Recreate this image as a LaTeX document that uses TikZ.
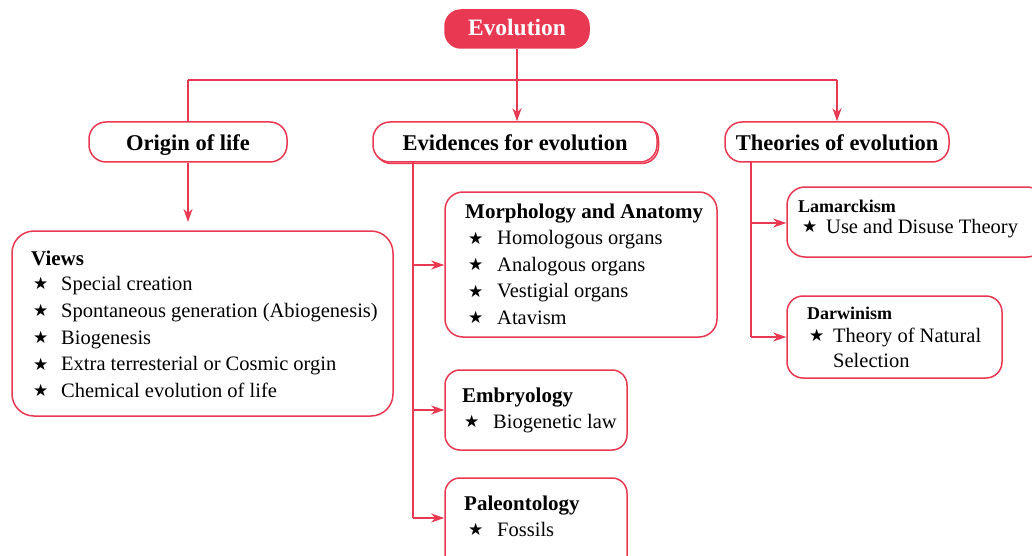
\documentclass[tikz,border=0pt]{standalone}
\usepackage{fontspec}
\setmainfont{Liberation Serif}
\newfontfamily\symf{DejaVu Sans}
\usetikzlibrary{arrows.meta}
\definecolor{ered}{RGB}{233,57,82}
\newcommand\itm[2][28pt]{\makebox[#1][l]{\raisebox{0.5pt}{\symf\fontsize{17}{17}\selectfont ★}}#2}
\begin{document}
\begin{tikzpicture}[x=1pt,y=-1pt,
  ln/.style={draw=ered,line width=1.6pt},
  arr/.style={ln,-{Stealth[length=13pt,width=9pt,inset=4pt]}},
  box/.style={draw=ered,line width=1.5pt,rectangle,inner sep=0pt,fill=white},
  pill/.style={box,rounded corners=17pt,text height=16pt,text depth=0pt,font=\fontsize{22.5}{27}\selectfont\bfseries},
  hd/.style={font=\fontsize{21}{25}\selectfont\bfseries,anchor=base west,inner sep=0pt},
  smhd/.style={font=\fontsize{18}{22}\selectfont\bfseries,anchor=base west,inner sep=0pt},
  bd/.style={font=\fontsize{20.5}{25}\selectfont,anchor=base west,inner sep=0pt}]
\clip (0,0) rectangle (1032,556);
\fill[white] (0,0) rectangle (1032,556);
% top level
\node[box,fill=ered,rounded corners=16pt,minimum width=144pt,minimum height=38pt,
  text height=15pt,text depth=2pt,
  text=white,font=\fontsize{23.5}{28}\selectfont\bfseries] (evo) at (517,29) {Evolution};
\node[pill,minimum width=198pt,minimum height=40pt] (orig) at (188,142) {Origin of life};
\draw[ered,line width=1.5pt,rounded corners=17pt] (374.5,123.5) rectangle (658.5,163.5);
\node[pill,minimum width=284pt,minimum height=40pt] (evid) at (515,142) {Evidences for evolution};
\node[pill,minimum width=224pt,minimum height=40pt] (theo) at (837,142) {Theories of evolution};
% connectors top
\coordinate (hm) at (517,80);
\coordinate (hl) at (orig.north |- hm);
\coordinate (hr) at (theo.north |- hm);
\draw[ln] (evo.south) -- (hm);
\draw[ln] (hl) -- (hr);
\draw[ln] (hl) -- (orig.north);
\draw[arr] (hm) -- (hm |- evid.north);
\draw[arr] (hr) -- (theo.north);
% boxes
\node[box,rounded corners=22pt,minimum width=381pt,minimum height=185pt] (views) at (202.5,323.5) {};
\node[box,rounded corners=18pt,minimum width=272pt,minimum height=145pt] (morph) at (581,264.5) {};
\node[box,rounded corners=15pt,minimum width=182pt,minimum height=80pt] (embr) at (536,410) {};
\node[box,rounded corners=15pt,minimum width=182pt,minimum height=97pt] (pale) at (536,526.5) {};
\node[box,rounded corners=18pt,minimum width=258pt,minimum height=70pt] (lam) at (916,222) {};
\node[box,rounded corners=16pt,minimum width=215pt,minimum height=82pt] (dar) at (894.5,337) {};
% origin -> views
\coordinate (vt) at (orig.south |- 0,222);
\draw[arr] (orig.south) -- (vt);
% evidences branch
\coordinate (e0) at (413,162);
\coordinate (e1) at (413,265);
\coordinate (e2) at (413,410);
\coordinate (e3) at (413,518);
\draw[ln] (e0) -- (e3);
\draw[arr] (e1) -- (e1 -| morph.west);
\draw[arr] (e2) -- (e2 -| embr.west);
\draw[arr] (e3) -- (e3 -| pale.west);
% theories branch
\coordinate (t0) at (751,162);
\coordinate (t1) at (751,223);
\coordinate (t2) at (751,337);
\draw[ln] (t0) -- (t2);
\draw[arr] (t1) -- (t1 -| lam.west);
\draw[arr] (t2) -- (t2 -| dar.west);
% views text
\node[hd] (vh) at (31,265) {Views};
\node[bd] (v1) at (33,290) {\itm{Special creation}};
\node[bd] (v2) at (33,317) {\itm{Spontaneous generation (Abiogenesis)}};
\node[bd] (v3) at (33,344) {\itm{Biogenesis}};
\node[bd] (v4) at (33,370.5) {\itm{Extra terresterial or Cosmic orgin}};
\node[bd] (v5) at (33,397) {\itm{Chemical evolution of life}};
% morphology text
\node[hd] (mh) at (465,218) {Morphology and Anatomy};
\node[bd] (m1) at (468,244.5) {\itm[29pt]{Homologous organs}};
\node[bd] (m2) at (468,271) {\itm[29pt]{Analogous organs}};
\node[bd] (m3) at (468,297.5) {\itm[29pt]{Vestigial organs}};
\node[bd] (m4) at (468,324) {\itm[29pt]{Atavism}};
% embryology
\node[hd] (eh) at (462,402) {Embryology};
\node[bd] (e1t) at (464,428) {\itm[29pt]{Biogenetic law}};
% paleontology
\node[hd] (ph) at (464,510) {Paleontology};
\node[bd] (p1) at (468,536) {\itm[29pt]{Fossils}};
% lamarckism
\node[smhd] (lh) at (798,212) {Lamarckism};
\node[bd] (l1) at (802,233) {\itm[24pt]{Use and Disuse Theory}};
% darwinism
\node[smhd] (dh) at (807,319) {Darwinism};
\node[bd] (d1) at (809,342) {\itm[24pt]{Theory of Natural}};
\node[bd] (d2) at (833,367) {Selection};
\end{tikzpicture}
\end{document}
